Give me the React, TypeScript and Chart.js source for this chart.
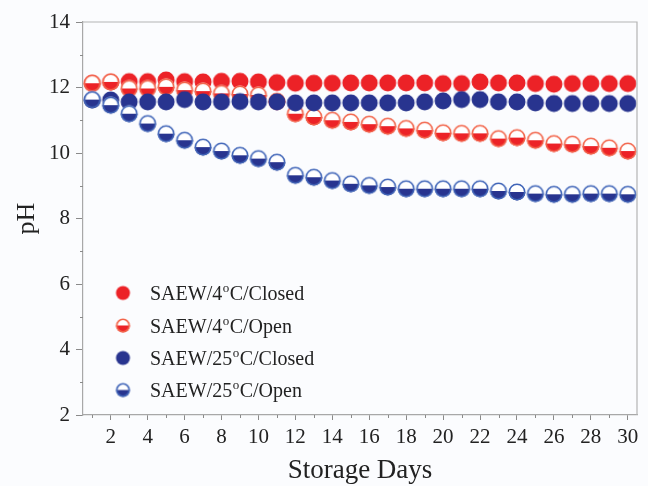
import React, { useEffect, useRef } from "react";
import { Chart, registerables } from "chart.js";

Chart.register(...registerables);

const days = [1, 2, 3, 4, 5, 6, 7, 8, 9, 10, 11, 12, 13, 14, 15, 16, 17, 18, 19, 20, 21, 22, 23, 24, 25, 26, 27, 28, 29, 30];

const redClosed = [12.13, 12.17, 12.18, 12.18, 12.23, 12.18, 12.17, 12.19, 12.19, 12.17, 12.15, 12.13, 12.13, 12.13, 12.14, 12.14, 12.14, 12.14, 12.14, 12.12, 12.12, 12.17, 12.14, 12.14, 12.12, 12.1, 12.12, 12.12, 12.12, 12.12];
const redOpen = [12.13, 12.17, 11.97, 11.97, 12.02, 11.92, 11.89, 11.82, 11.8, 11.77, 11.58, 11.2, 11.1, 11.0, 10.95, 10.88, 10.82, 10.75, 10.7, 10.62, 10.6, 10.6, 10.44, 10.47, 10.39, 10.29, 10.27, 10.21, 10.16, 10.06];
const blueClosed = [11.62, 11.62, 11.56, 11.56, 11.56, 11.63, 11.56, 11.56, 11.57, 11.56, 11.56, 11.53, 11.53, 11.53, 11.53, 11.53, 11.53, 11.53, 11.56, 11.59, 11.63, 11.63, 11.56, 11.56, 11.53, 11.51, 11.51, 11.51, 11.51, 11.51];
const blueOpen = [11.63, 11.46, 11.2, 10.9, 10.59, 10.39, 10.18, 10.06, 9.93, 9.83, 9.72, 9.32, 9.26, 9.16, 9.06, 9.01, 8.96, 8.91, 8.91, 8.91, 8.91, 8.91, 8.84, 8.81, 8.76, 8.74, 8.74, 8.76, 8.76, 8.74];

const seriesLabels = ["SAEW/4°C/Closed", "SAEW/4°C/Open", "SAEW/25°C/Closed", "SAEW/25°C/Open"];

const yTicks = [2, 4, 6, 8, 10, 12, 14];
const yMinorTicks = [3, 5, 7, 9, 11, 13];
const xTicks = [2, 4, 6, 8, 10, 12, 14, 16, 18, 20, 22, 24, 26, 28, 30];
const xMinorTicks = [1, 3, 5, 7, 9, 11, 13, 15, 17, 19, 21, 23, 25, 27, 29];

const FONT = "'Liberation Serif', 'Times New Roman', serif";
const RED = "#ec2227";
const RED_RING = "#f2644a";
const BLUE = "#28348f";
const BLUE_RING = "#4065b8";

function makeMarker(r: number, fill: string, ring: string, half: boolean): HTMLCanvasElement {
  const s = Math.ceil(2 * r + 3);
  const c = document.createElement("canvas");
  c.width = s;
  c.height = s;
  const g = c.getContext("2d")!;
  const cx = s / 2;
  const cy = s / 2;
  if (!half) {
    g.beginPath();
    g.arc(cx, cy, r, 0, Math.PI * 2);
    g.fillStyle = fill;
    g.fill();
    return c;
  }
  g.beginPath();
  g.arc(cx, cy, r, 0, Math.PI * 2);
  g.fillStyle = "#ffffff";
  g.fill();
  g.save();
  g.beginPath();
  g.arc(cx, cy, r, 0, Math.PI * 2);
  g.clip();
  g.fillStyle = fill;
  g.fillRect(0, cy, s, s);
  g.restore();
  g.beginPath();
  g.arc(cx, cy, r - 0.8, 0, Math.PI * 2);
  g.lineWidth = 1.6;
  g.strokeStyle = ring;
  g.stroke();
  return c;
}

export default function App() {
  const ref = useRef<HTMLCanvasElement | null>(null);

  useEffect(() => {
    const canvas = ref.current;
    if (!canvas) return;

    const R = 8.5;
    const markers = [
      makeMarker(R, RED, RED, false),
      makeMarker(R, RED, RED_RING, true),
      makeMarker(R, BLUE, BLUE, false),
      makeMarker(R, BLUE, BLUE_RING, true),
    ];
    const legendMarkers = [
      makeMarker(7, RED, RED, false),
      makeMarker(7, RED, RED_RING, true),
      makeMarker(7, BLUE, BLUE, false),
      makeMarker(7, BLUE, BLUE_RING, true),
    ];
    const series = [redClosed, redOpen, blueClosed, blueOpen];

    const framePlugin = {
      id: "frame",
      afterDraw(chart: any) {
        const { ctx, chartArea } = chart;
        const { left, right, top, bottom } = chartArea;
        ctx.save();
        ctx.strokeStyle = "#b4b4b4";
        ctx.lineWidth = 1.2;
        ctx.beginPath();
        ctx.moveTo(left, top);
        ctx.lineTo(right, top);
        ctx.lineTo(right, bottom);
        ctx.stroke();
        // minor ticks
        ctx.strokeStyle = "#8a8a8a";
        ctx.lineWidth = 1;
        const ys = chart.scales.y;
        const xs = chart.scales.x;
        ctx.beginPath();
        yMinorTicks.forEach((v) => {
          const py = Math.round(ys.getPixelForValue(v)) + 0.5;
          ctx.moveTo(left - 3, py);
          ctx.lineTo(left, py);
        });
        xMinorTicks.forEach((v) => {
          const px = Math.round(xs.getPixelForValue(v)) + 0.5;
          ctx.moveTo(px, bottom);
          ctx.lineTo(px, bottom + 3);
        });
        ctx.stroke();

        // legend
        const rows = [293, 325.5, 358, 390];
        chart.data.datasets.forEach((ds: any, i: number) => {
          const m = legendMarkers[i];
          ctx.drawImage(m, 123 - m.width / 2, rows[i] - m.height / 2);
          const parts = String(ds.label).split("°");
          let cx = 150;
          const by = rows[i] + 7;
          ctx.fillStyle = "#222222";
          ctx.textBaseline = "alphabetic";
          ctx.textAlign = "left";
          parts.forEach((p: string, k: number) => {
            if (k > 0) {
              ctx.font = `13px ${FONT}`;
              ctx.fillText("o", cx + 0.5, by - 8);
              cx += ctx.measureText("o").width + 1;
            }
            ctx.font = `20px ${FONT}`;
            ctx.fillText(p, cx, by);
            cx += ctx.measureText(p).width;
          });
        });
        ctx.restore();
      },
    };

    const chart = new Chart(canvas, {
      type: "scatter",
      data: {
        datasets: series.map((vals, i) => ({
          label: seriesLabels[i],
          data: days.map((d, j) => ({ x: d, y: vals[j] })),
          pointStyle: markers[i] as any,
          pointRadius: R,
          pointHoverRadius: R,
          backgroundColor: i < 2 ? RED : BLUE,
          borderColor: i < 2 ? RED : BLUE,
          borderWidth: 0,
          showLine: false,
          order: 3 - i,
        })),
      },
      plugins: [framePlugin],
      options: {
        animation: false,
        responsive: false,
        events: [],
        layout: { padding: { top: 22, right: 11, left: 0, bottom: 0 } },
        plugins: {
          legend: { display: false },
          tooltip: { enabled: false },
        },
        scales: {
          x: {
            type: "linear",
            position: "bottom",
            min: 0.5,
            max: 30.5,
            afterBuildTicks: (scale: any) => {
              scale.ticks = xTicks.map((v) => ({ value: v }));
            },
            afterFit: (scale: any) => {
              scale.height = 71;
            },
            grid: {
              drawOnChartArea: false,
              drawTicks: true,
              tickLength: 5,
              tickColor: "#8a8a8a",
              tickWidth: 1,
            },
            border: { display: true, color: "#a8a8a8", width: 1.2 },
            ticks: {
              color: "#222222",
              font: { family: FONT, size: 21 },
              padding: 5,
              maxRotation: 0,
              autoSkip: false,
            },
            title: {
              display: true,
              text: "Storage Days",
              color: "#222222",
              font: { family: FONT, size: 27 },
              padding: { top: 0, bottom: -1 },
            },
          },
          y: {
            type: "linear",
            min: 2,
            max: 14,
            afterBuildTicks: (scale: any) => {
              scale.ticks = yTicks.map((v) => ({ value: v }));
            },
            afterFit: (scale: any) => {
              scale.width = 83;
            },
            grid: {
              drawOnChartArea: false,
              drawTicks: true,
              tickLength: 7,
              tickColor: "#8a8a8a",
              tickWidth: 1,
            },
            border: { display: true, color: "#a8a8a8", width: 1.2 },
            ticks: {
              color: "#222222",
              font: { family: FONT, size: 21 },
              padding: 6,
              autoSkip: false,
            },
            title: {
              display: true,
              text: "pH",
              color: "#222222",
              font: { family: FONT, size: 26 },
              padding: { top: 12, bottom: 0 },
            },
          },
        },
      },
    });

    return () => {
      chart.destroy();
    };
  }, []);

  return (
    <div
      style={{
        position: "fixed",
        left: 0,
        top: 0,
        width: 648,
        height: 486,
        background: "#fbfcfe",
      }}
    >
      <canvas ref={ref} width={648} height={486} style={{ width: 648, height: 486, display: "block" }} />
    </div>
  );
}
